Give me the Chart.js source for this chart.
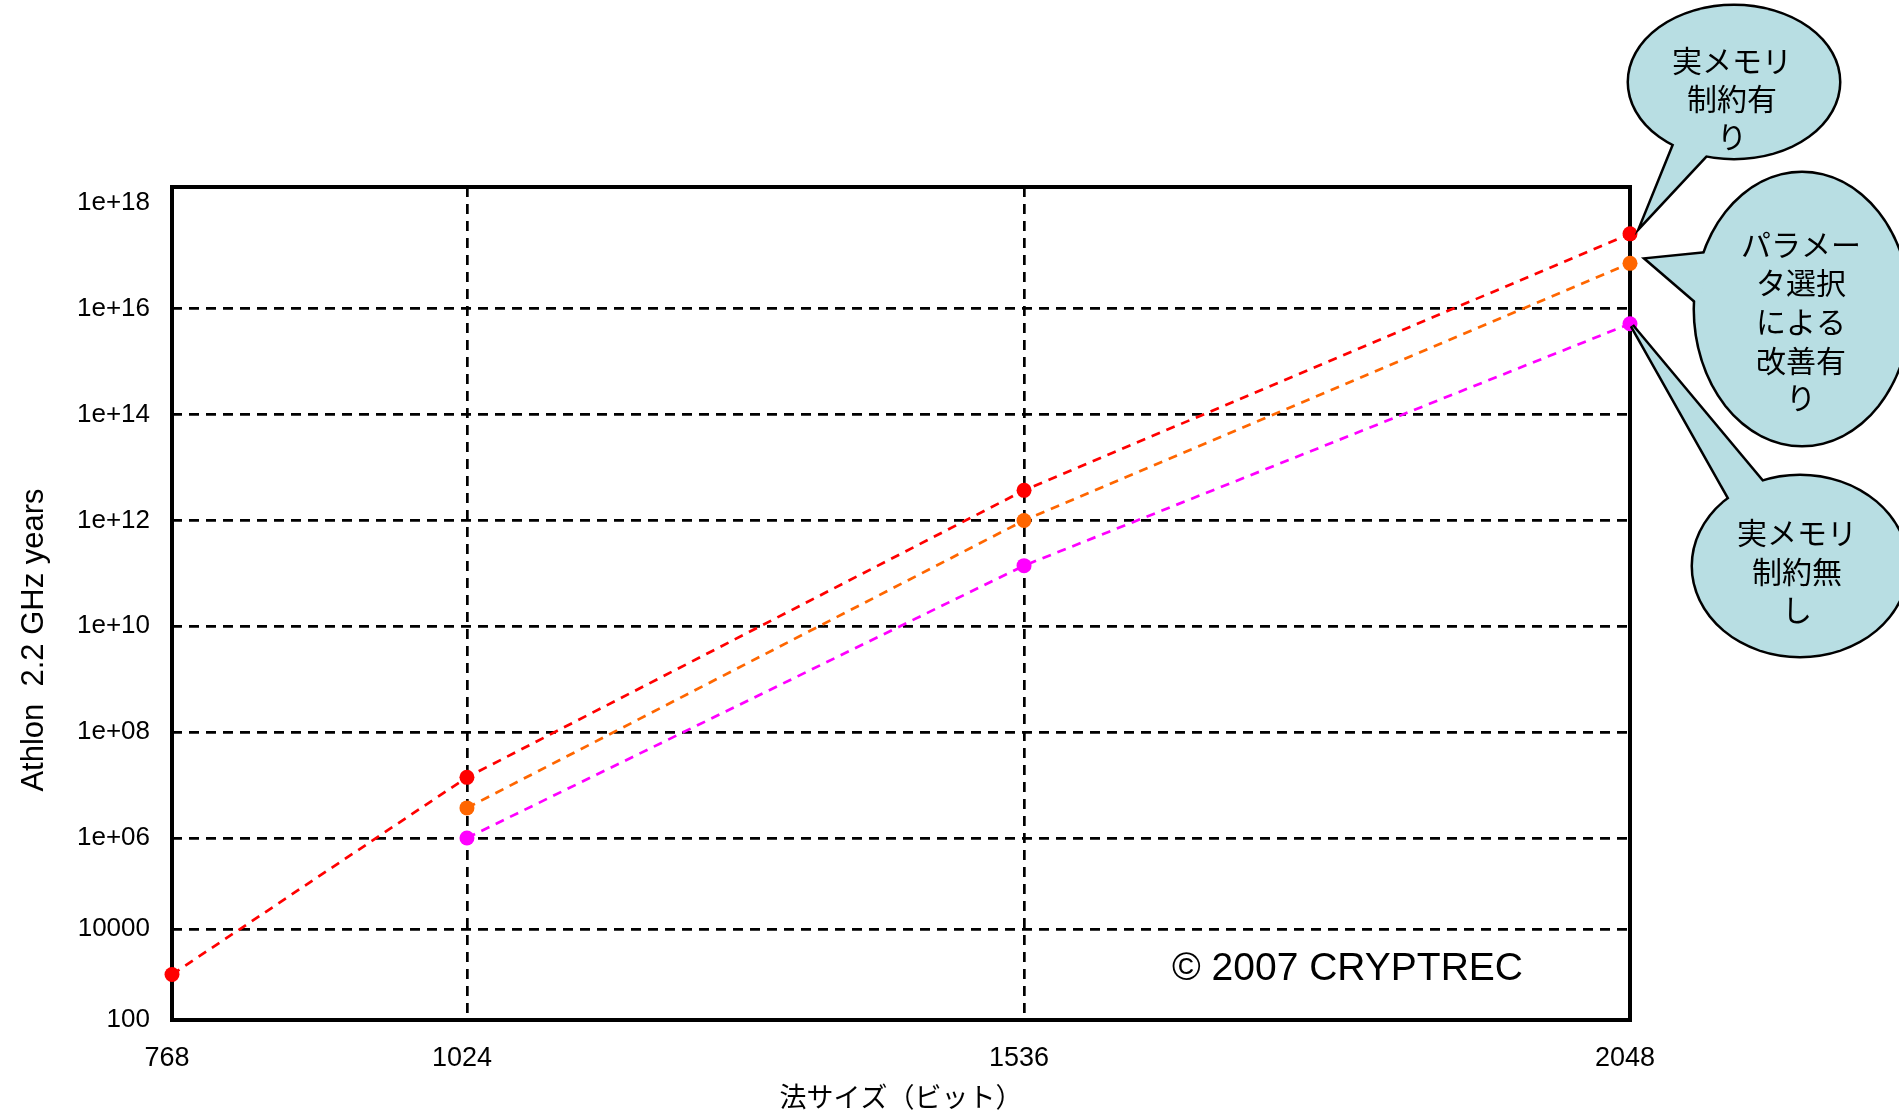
<!DOCTYPE html>
<html><head><meta charset="utf-8">
<script src="https://cdn.jsdelivr.net/npm/chart.js@4.4.1/dist/chart.umd.min.js"></script>
<style>html,body{margin:0;padding:0;background:#fff;overflow:hidden}canvas{display:block}</style>
</head><body>
<canvas id="c" width="1899" height="1114"></canvas>
<script>
// ---- data ----
const keySizes = [768, 1024, 1536, 2048];
const memLimited = [1e3, 1.4e7, 3.7e12, 2.6e17];      // 実メモリ制約有り
const paramImproved = [null, 3.7e6, 1.0e12, 7.2e16];  // パラメータ選択による改善有り
const memUnlimited = [null, 1.0e6, 1.4e11, 5.2e15];   // 実メモリ制約無し
const xTickValues = [768, 1024, 1536, 2048];
const yTickValues = [1e2, 1e4, 1e6, 1e8, 1e10, 1e12, 1e14, 1e16, 1e18];
const yTickLabels = ['100', '10000', '1e+06', '1e+08', '1e+10', '1e+12', '1e+14', '1e+16', '1e+18'];
const xTitle = '法サイズ（ビット）';
const yTitle = 'Athlon  2.2 GHz years';
const credit = '\u00A9 2007 CRYPTREC';
const calloutTexts = [
  ['実メモリ', '制約有', 'り'],
  ['パラメー', 'タ選択', 'による', '改善有', 'り'],
  ['実メモリ', '制約無', 'し']
];

// ---- piecewise scales (the original axes are not evenly spaced) ----
function knotFrac(k, t) {
  let i = 1;
  while (i < k.length - 1 && t > k[i][0]) i++;
  const [a0, f0] = k[i - 1], [a1, f1] = k[i];
  return f0 + (t - a0) / (a1 - a0) * (f1 - f0);
}
function knotInv(k, f) {
  let i = 1;
  while (i < k.length - 1 && f > k[i][1]) i++;
  const [a0, f0] = k[i - 1], [a1, f1] = k[i];
  return a0 + (f - f0) / (f1 - f0) * (a1 - a0);
}
class KnotLogScale extends Chart.LogarithmicScale {
  getPixelForValue(v) {
    if (v === undefined || v === null || v <= 0) v = this.min;
    return this.getPixelForDecimal(knotFrac(this.options.knots, Math.log10(v)));
  }
  getValueForPixel(p) {
    return Math.pow(10, knotInv(this.options.knots, this.getDecimalForPixel(p)));
  }
}
KnotLogScale.id = 'knotLog';
KnotLogScale.defaults = {};
class KnotLinearScale extends Chart.LinearScale {
  getPixelForValue(v) {
    return this.getPixelForDecimal(knotFrac(this.options.knots, v));
  }
  getValueForPixel(p) {
    return knotInv(this.options.knots, this.getDecimalForPixel(p));
  }
}
KnotLinearScale.id = 'knotLinear';
KnotLinearScale.defaults = {};
Chart.register(KnotLogScale, KnotLinearScale);

function series(arr) {
  return keySizes.map((x, i) => ({x: x, y: arr[i]})).filter(p => p.y !== null);
}
function ds(label, arr, color) {
  return {
    label: label, data: series(arr), borderColor: color, backgroundColor: color,
    borderWidth: 2.7, borderDash: [9, 7], pointRadius: 7.5, pointHoverRadius: 7.5,
    pointBorderWidth: 0, tension: 0, clip: false, showLine: true
  };
}

const FONT = '"Liberation Sans", Arial, sans-serif';
const CJK = '"Noto Sans CJK JP", "Noto Sans CJK SC", sans-serif';
Chart.defaults.font.family = FONT;
Chart.defaults.color = '#000';

const framePlugin = {
  id: 'frame',
  beforeDatasetsDraw(chart) {
    const {ctx, chartArea: a} = chart;
    ctx.save();
    ctx.strokeStyle = '#000';
    ctx.lineWidth = 4;
    ctx.strokeRect(a.left, a.top, a.right - a.left, a.bottom - a.top);
    ctx.restore();
  }
};

const calloutGeom = [
  {cx: 1734, cy: 82, rx: 105, ry: 76, b1: [1676, 140], b2: [1709, 152], tipOff: [12, -10], ds: 0, ty: [61, 99, 137], tx: 1732},
  {cx: 1802, cy: 309, rx: 107, ry: 136, b1: [1710, 253], b2: [1699, 304], tipOff: [17, -4], ds: 1, ty: [245, 283, 322, 361, 398], tx: 1801},
  {cx: 1800, cy: 566, rx: 107, ry: 90, b1: [1732, 503], b2: [1765, 485], tipOff: [2, 2], ds: 2, ty: [533, 572, 610], tx: 1797}
];

const annotPlugin = {
  id: 'annot',
  afterDraw(chart) {
    const {ctx} = chart;
    ctx.save();
    // y title
    ctx.save();
    ctx.translate(34, 640);
    ctx.rotate(-Math.PI / 2);
    ctx.font = '31px ' + FONT;
    ctx.textAlign = 'center';
    ctx.textBaseline = 'middle';
    ctx.fillStyle = '#000';
    ctx.fillText(yTitle, 0, 0);
    ctx.restore();
    // credit
    ctx.font = '39px ' + FONT;
    ctx.textAlign = 'left';
    ctx.textBaseline = 'middle';
    ctx.fillStyle = '#000';
    ctx.fillText(credit, 1172, 969);
    // callouts
    calloutGeom.forEach((g, k) => {
      const meta = chart.getDatasetMeta(g.ds);
      const last = meta.data[meta.data.length - 1];
      const tip = [last.x + g.tipOff[0], last.y + g.tipOff[1]];
      const ell = () => { ctx.beginPath(); ctx.ellipse(g.cx, g.cy, g.rx, g.ry, 0, 0, Math.PI * 2); };
      const tail = () => {
        ctx.beginPath();
        ctx.moveTo(g.b1[0], g.b1[1]);
        ctx.lineTo(tip[0], tip[1]);
        ctx.lineTo(g.b2[0], g.b2[1]);
        ctx.closePath();
      };
      ctx.lineJoin = 'miter';
      ctx.strokeStyle = '#000';
      ctx.lineWidth = 5;
      ell(); ctx.stroke();
      tail(); ctx.stroke();
      ctx.fillStyle = '#b8dee3';
      ell(); ctx.fill();
      tail(); ctx.fill();
      ctx.fillStyle = '#000';
      ctx.font = '30px ' + CJK;
      ctx.textAlign = 'center';
      ctx.textBaseline = 'middle';
      calloutTexts[k].forEach((t, j) => ctx.fillText(t, g.tx, g.ty[j]));
    });
    ctx.restore();
  }
};

new Chart(document.getElementById('c'), {
  type: 'line',
  data: {
    datasets: [
      ds('実メモリ制約有り', memLimited, '#ff0000'),
      ds('パラメータ選択による改善有り', paramImproved, '#ff6600'),
      ds('実メモリ制約無し', memUnlimited, '#ff00ff')
    ]
  },
  options: {
    responsive: false,
    devicePixelRatio: 1,
    animation: false,
    layout: {padding: {left: 0, top: 187, right: 269, bottom: 0}},
    plugins: {legend: {display: false}, tooltip: {enabled: false}, title: {display: false}},
    scales: {
      x: {
        type: 'knotLinear',
        position: 'bottom',
        min: 768, max: 2048,
        knots: [[768, 0], [1024, 0.2023], [1536, 0.5844], [2048, 1]],
        afterBuildTicks: s => { s.ticks = xTickValues.map(v => ({value: v})); },
        afterFit: s => { s.height = 94; },
        ticks: {
          autoSkip: false, maxRotation: 0, padding: 22, labelOffset: -5,
          font: {size: 27, family: FONT}, color: '#000',
          callback: v => String(v)
        },
        grid: {
          drawTicks: false, lineWidth: 2.7,
          color: c => (c.tick && c.tick.value > 768 && c.tick.value < 2048) ? '#000' : 'rgba(0,0,0,0)'
        },
        border: {display: false, dash: [10, 7]},
        title: {display: true, text: xTitle, font: {size: 27, family: CJK}, color: '#000', padding: {top: 0, bottom: 1}}
      },
      y: {
        type: 'knotLog',
        position: 'left',
        min: 100, max: Math.pow(10, 18.3),
        bounds: 'data',
        knots: [[2, 0], [4, 0.1092], [6, 0.2185], [18.3, 1]],
        afterBuildTicks: s => { s.ticks = yTickValues.map(v => ({value: v})); },
        afterFit: s => { s.width = 172; },
        ticks: {
          autoSkip: false, padding: 22,
          font: {size: 26, family: FONT}, color: '#000',
          callback: (v, i) => yTickLabels[i]
        },
        grid: {
          drawTicks: false, lineWidth: 2.7,
          color: c => (c.tick && c.tick.value > 100 && c.tick.value < 1e18) ? '#000' : 'rgba(0,0,0,0)'
        },
        border: {display: false, dash: [10, 7]}
      }
    }
  },
  plugins: [framePlugin, annotPlugin]
});
</script>
</body></html>
